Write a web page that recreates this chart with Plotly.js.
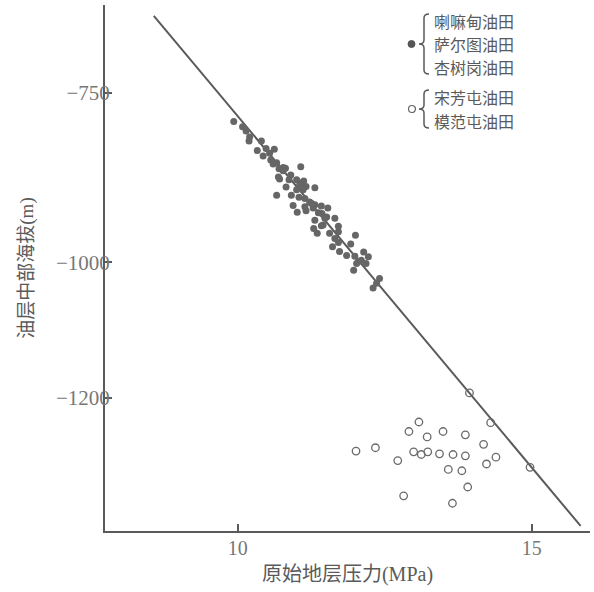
<!DOCTYPE html>
<html>
<head>
<meta charset="utf-8">
<script src="https://cdn.plot.ly/plotly-3.0.1.min.js"></script>
<style>html,body{margin:0;padding:0;background:#fff;}</style>
</head>
<body>
<div id="chart" style="width:594px;height:592px;"></div>
<script>
// Filled dots: 喇嘛甸 / 萨尔图 / 杏树岗 油田 (pressure MPa, elevation m)
const filledX = [9.93,10.08,10.20,10.19,10.40,10.33,10.48,10.62,10.54,10.43,10.56,10.66,11.07,10.70,10.77,10.71,10.90,10.87,11.00,11.12,
  10.82,11.05,11.16,11.31,10.66,10.91,11.04,11.11,11.22,10.94,11.01,11.16,11.28,11.42,11.53,11.43,11.51,11.31,11.42,11.65,
  11.71,11.29,11.35,12.00,11.61,11.71,11.92,11.73,11.85,11.99,12.14,12.22,12.10,12.02,12.18,11.97,12.41,12.36,12.30,10.60,
  10.77,10.69,10.81,11.08,11.00,11.14,11.25,11.14,11.31,11.37,11.48,11.56,11.71,11.45,11.65,12.05,10.14];
const filledY = [-792,-800,-815,-821,-821,-835,-832,-833,-839,-843,-849,-853,-859,-862,-865,-877,-871,-878,-878,-880,
  -889,-886,-888,-890,-901,-901,-904,-893,-911,-916,-926,-924,-920,-917,-920,-928,-933,-938,-946,-935,
  -947,-950,-957,-960,-977,-971,-973,-984,-990,-991,-985,-992,-997,-1002,-1002,-1012,-1024,-1031,-1038,-855,
  -860,-874,-861,-883,-893,-906,-913,-918,-915,-927,-935,-957,-955,-945,-965,-999,-806];
// Open circles: 宋芳屯 / 模范屯 油田
const openX = [13.94,14.30,14.97,12.01,12.34,12.72,12.91,13.08,13.22,13.49,13.87,14.18,12.99,13.12,13.23,13.43,13.66,13.87,14.39,14.23,
  13.58,13.81,13.91,12.82,13.65];
const openY = [-1193,-1237,-1303,-1279,-1274,-1293,-1250,-1236,-1258,-1250,-1255,-1269,-1280,-1284,-1280,-1283,-1284,-1286,-1288,-1298,
  -1306,-1308,-1332,-1345,-1356];
// Trend line end points
const lineX = [8.57, 15.83];
const lineY = [-636, -1389.5];
// Ticks
const xTicks = [10, 15];
const yTicks = [-750, -1000, -1200];
const legendGroup1 = ['喇嘛甸油田', '萨尔图油田', '杏树岗油田'];
const legendGroup2 = ['宋芳屯油田', '模范屯油田'];

const W = 594, H = 592;
const M = {l:105, r:4, t:5, b:61};
const pw = W - M.l - M.r, ph = H - M.t - M.b;
const px = p => (p - M.l) / pw;
const py = p => (H - M.b - p) / ph;

const grey = '#5a5a5a';
const cjk = '"Noto Sans CJK SC", "Noto Sans", sans-serif';
const serif = '"Liberation Serif", "DejaVu Serif", serif';

const traces = [
  {x: lineX, y: lineY, mode: 'lines', line: {color: grey, width: 2}, hoverinfo: 'skip'},
  {x: filledX, y: filledY, mode: 'markers', marker: {symbol: 'circle', size: 7, color: '#666'}},
  {x: openX, y: openY, mode: 'markers', marker: {symbol: 'circle-open', size: 7.5, color: '#6a6a6a', line: {width: 1.3, color: '#6a6a6a'}}}
];

function brace(top, mid, bot) {
  const xr = 429, xl = 424, xt = 419, r = 4;
  const P = (a, b) => px(a).toFixed(5) + ',' + py(b).toFixed(5);
  return 'M' + P(xr, top) + ' Q' + P(xl, top) + ' ' + P(xl, top + r) +
    ' L' + P(xl, mid - r) + ' Q' + P(xl, mid) + ' ' + P(xt, mid) +
    ' Q' + P(xl, mid) + ' ' + P(xl, mid + r) +
    ' L' + P(xl, bot - r) + ' Q' + P(xl, bot) + ' ' + P(xr, bot);
}

const g1y = [20.6, 44, 67.4];
const g2y = [97.5, 120.9];
const shapes = [
  {type: 'path', xref: 'paper', yref: 'paper', path: brace(14, 44, 74), line: {color: grey, width: 1.5}},
  {type: 'path', xref: 'paper', yref: 'paper', path: brace(90, 109, 128), line: {color: grey, width: 1.5}},
  {type: 'circle', xref: 'paper', yref: 'paper', x0: px(408), x1: px(415), y0: py(40.5), y1: py(47.5), fillcolor: '#555', line: {color: '#555', width: 1}},
  {type: 'circle', xref: 'paper', yref: 'paper', x0: px(408.5), x1: px(415.5), y0: py(105.5), y1: py(112.5), fillcolor: 'rgba(0,0,0,0)', line: {color: '#666', width: 1.2}}
];

const annotations = [];
legendGroup1.forEach((t, i) => annotations.push({xref: 'paper', yref: 'paper', x: px(433), y: py(g1y[i]), xanchor: 'left', yanchor: 'middle', showarrow: false, borderpad: 0, text: t, font: {family: cjk, size: 16, color: grey}}));
legendGroup2.forEach((t, i) => annotations.push({xref: 'paper', yref: 'paper', x: px(433), y: py(g2y[i]), xanchor: 'left', yanchor: 'middle', showarrow: false, borderpad: 0, text: t, font: {family: cjk, size: 16, color: grey}}));

const layout = {
  width: W, height: H, margin: M,
  paper_bgcolor: '#fff', plot_bgcolor: '#fff',
  showlegend: false,
  shapes: shapes,
  annotations: annotations,
  xaxis: {
    range: [7.74, 15.99], tickvals: xTicks, ticktext: xTicks.map(String),
    ticks: 'inside', ticklen: 7, tickwidth: 2, tickcolor: grey,
    showline: true, linecolor: grey, linewidth: 2, showgrid: false, zeroline: false,
    tickfont: {family: serif, size: 20, color: '#777'}, ticklabelstandoff: -2,
    title: {text: '原始地层压力<span style="font-family:Liberation Serif">(MPa)</span>', font: {family: cjk, size: 20, color: grey}, standoff: 9}
  },
  yaxis: {
    range: [-1397, -620], tickvals: yTicks, ticktext: yTicks.map(v => '\u2212' + Math.abs(v)),
    ticks: 'inside', ticklen: 7, tickwidth: 2, tickcolor: grey,
    showline: true, linecolor: grey, linewidth: 2, showgrid: false, zeroline: false,
    tickfont: {family: serif, size: 21, color: '#777'}, ticklabelstandoff: -11,
    title: {text: '油层中部海拔<span style="font-family:Liberation Serif">(m)</span>', font: {family: cjk, size: 19, color: grey}, standoff: 17}
  }
};

Plotly.newPlot('chart', traces, layout, {displayModeBar: false, staticPlot: true});
</script>
</body>
</html>
